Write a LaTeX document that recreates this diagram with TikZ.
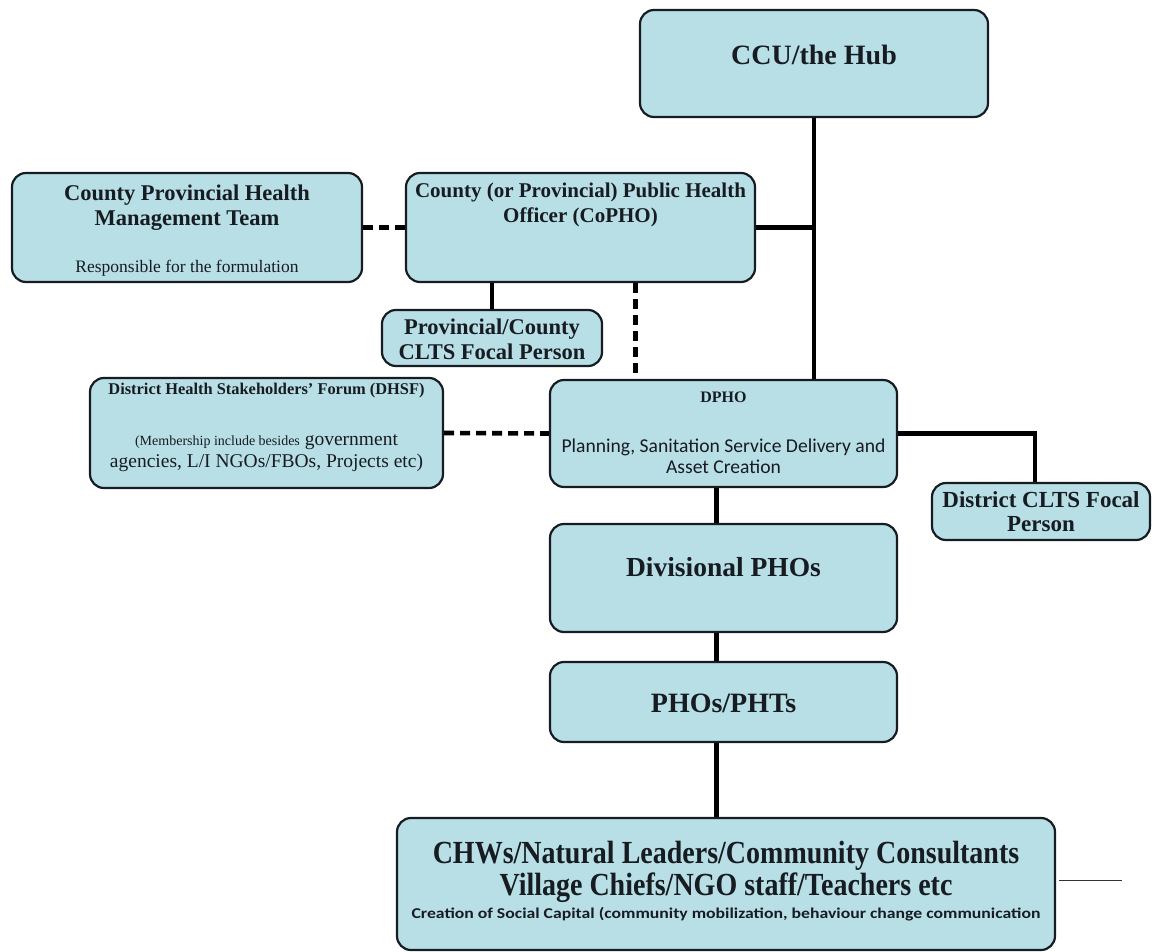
\documentclass[tikz,border=0pt]{standalone}
\usepackage{fontspec}
\setmainfont{Liberation Serif}
\newfontfamily\calfont{Carlito}
\definecolor{boxfill}{RGB}{184,223,229}
\definecolor{ink}{RGB}{22,28,34}
\newcommand{\fs}[2]{\fontsize{#1}{#2}\selectfont}

\begin{document}
\begin{tikzpicture}[x=1pt,y=-1pt,
  box/.style={draw=ink, line width=2.2pt, rounded corners=14pt, fill=boxfill, inner sep=0pt},
  link/.style={line width=4.6pt, draw=black},
  dashlink/.style={line width=4.6pt, draw=black, dash pattern=on 10pt off 6pt},
  txt/.style={text=ink, align=center, inner sep=0pt}
]
\useasboundingbox (0,0) rectangle (1152,952);

% boxes
\node[box, minimum width=348pt, minimum height=107pt] (ccu)   at (814,63.5) {};
\node[box, minimum width=350pt, minimum height=109pt] (cphmt) at (187,227.5) {};
\node[box, minimum width=349pt, minimum height=109pt] (copho) at (580.5,227.5) {};
\node[box, minimum width=220pt, minimum height=56pt]  (prov)  at (492,338) {};
\node[box, minimum width=353pt, minimum height=110pt] (dhsf)  at (266.5,433) {};
\node[box, minimum width=347pt, minimum height=107pt] (dpho)  at (723.5,433.5) {};
\node[box, minimum width=218pt, minimum height=57pt]  (dclts) at (1041,511.5) {};
\node[box, minimum width=347pt, minimum height=108pt] (div)   at (723.5,578) {};
\node[box, minimum width=347pt, minimum height=80pt]  (pho)   at (723.5,702) {};
\node[box, minimum width=658pt, minimum height=132pt] (chw)   at (726,884) {};

% connectors
\draw[link] (ccu.south) -- (ccu.south |- dpho.north);
\draw[link] (copho.east) -- (copho.east -| ccu.south);
\draw[dashlink] (cphmt.east) -- (copho.west);
\draw[link] (prov.north) -- (prov.north |- copho.south);
\draw[dashlink] ([xshift=55pt]copho.south) -- ([xshift=55pt]copho.south |- dpho.north);
\draw[dashlink] (dhsf.east) -- (dpho.west);
\draw[link] (dpho.east) -- ([xshift=-6pt]dpho.east -| dclts.north) -- ([xshift=-6pt]dclts.north);
\draw[link] ([xshift=-7pt]dpho.south) -- ([xshift=-7pt]dpho.south |- div.north);
\draw[link] ([xshift=-7pt]div.south) -- ([xshift=-7pt]div.south |- pho.north);
\draw[link] ([xshift=-7pt]pho.south) -- ([xshift=-7pt]pho.south |- chw.north);
\coordinate (tail) at (1122,880);
\draw[line width=1pt, draw=black!80] ([xshift=3pt]chw.east |- tail) -- (tail);

% texts
\node[txt, font=\bfseries\fs{28}{32}] (ccut) at (814,55) {CCU/the Hub};
\node[txt, font=\bfseries\fs{22.5}{25}] (cphmtt) at (187,207.5) {County Provincial Health\\Management Team};
\node[txt, font=\fs{17.5}{20}] (cphmts) at (187,268) {Responsible for the formulation};
\node[txt, font=\bfseries\fs{21}{25}] (cophot) at (580.5,204.5) {County (or Provincial) Public Health\\Officer (CoPHO)};
\node[txt, font=\bfseries\fs{22.5}{25}] (provt) at (492,339.5) {Provincial/County\\CLTS Focal Person};
\node[txt, font=\bfseries\fs{16.4}{18}] (dhsft) at (266.5,391) {District Health Stakeholders' Forum (DHSF)};
\node[txt, font=\fs{19.5}{22}] (dhsfs) at (266.5,453.5) {{\fs{14}{14}(Membership include besides} government\\agencies, L/I NGOs/FBOs, Projects etc)};
\node[txt, font=\bfseries\fs{16}{18}] (dphot) at (723.5,397) {DPHO};
\node[txt, font=\calfont\fs{19.6}{21.5}] (dphos) at (723.5,456.5) {Planning, Sanitation Service Delivery and\\Asset Creation};
\node[txt, font=\bfseries\fs{23}{24}] (dcltst) at (1041,512) {District CLTS Focal\\Person};
\node[txt, font=\bfseries\fs{27.5}{32}] (divt) at (723.5,567) {Divisional PHOs};
\node[txt, font=\bfseries\fs{28}{30}] (phot) at (723.5,703) {PHOs/PHTs};
\node[txt, font=\bfseries\fs{28}{32}] (chwt) at (726,872) {\scalebox{1}[1.15]{CHWs/Natural Leaders/Community Consultants}\\\scalebox{1}[1.15]{Village Chiefs/NGO staff/Teachers etc}};
\node[txt, font=\calfont\bfseries\fs{15}{17}] (chws) at (726,914) {\scalebox{1.18}[1]{Creation of Social Capital (community mobilization, behaviour change communication}};
\end{tikzpicture}
\end{document}
